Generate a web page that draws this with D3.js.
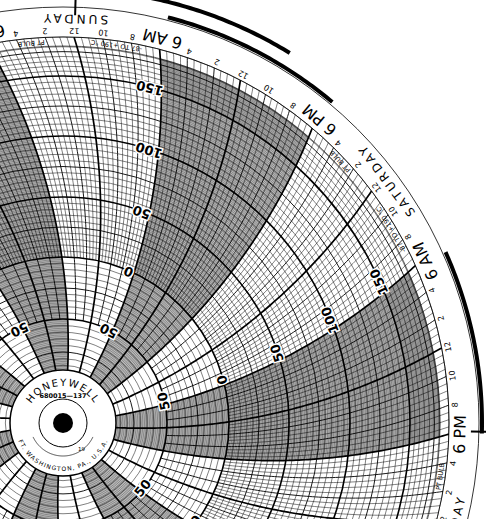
<!DOCTYPE html>
<html><head><meta charset="utf-8">
<script src="https://cdn.jsdelivr.net/npm/d3@7"></script>
<style>body{margin:0;background:#fff}svg{display:block}</style></head>
<body><svg id="c" width="486" height="519"></svg>
<script>
// ---- data ----
const scaleValues = [-87, -50, 0, 50, 100, 150, 190];
const valueLabels = [-50, 0, 50, 100, 150];
const valueLabelText = ["50", "0", "50", "100", "150"];
const dayNames = ["SUNDAY", "SATURDAY", "FRIDAY", "THURSDAY", "WEDNESDAY", "TUESDAY", "MONDAY"];
const hourLabels = [2, 4, 8, 10, 12];
const rimLabelSix = ["6 AM", "6 PM"];
const rangeText = "-87 TO +190 °C";
const bulbText = "PT BULB";

// ---- geometry ----
const W = 486, H = 519, cx = 63, cy = 423;
const svg = d3.select("#c");
const rScale = d3.scaleLinear().domain(scaleValues).range([55, 104, 166, 226, 287, 347, 386]);
const R = 386, HUB = 53, RHO = 1200;
const aScale = d3.scaleLinear().domain([0, 168]).range([14.5, 14.5 + 360]);
const rad = Math.PI / 180;
function curve(r) { return (Math.acos(r / RHO) - Math.acos(R / RHO)) / rad; }
function pt(h, r) { const a = (aScale(h) + curve(r)) * rad; return [cx + r * Math.sin(a), cy - r * Math.cos(a)]; }
function polar(a, r) { return [cx + r * Math.sin(a * rad), cy - r * Math.cos(a * rad)]; }

const g = svg.append("g");
g.append("rect").attr("width", W).attr("height", H).attr("fill", "#fff");

const defs = svg.append("defs");
const nightClip = defs.append("clipPath").attr("id", "night");
for (let k = -4; k <= 3; k++) {
  const h1 = 24 * k, h2 = 24 * k + 12, pts = [];
  for (let r = HUB; r <= R; r += 4) pts.push(pt(h1, r));
  for (let h = h1; h <= h2; h += 0.25) pts.push(pt(h, R));
  for (let r = R; r >= HUB; r -= 4) pts.push(pt(h2, r));
  nightClip.append("path").attr("d", d3.line()(pts) + "Z");
}
const ng = g.append("g").attr("clip-path", "url(#night)");
ng.append("circle").attr("cx", cx).attr("cy", cy).attr("r", R).attr("fill", "#bdbdbd");
for (let v = -87; v <= 190; v += 1.25) {
  ng.append("circle").attr("cx", cx).attr("cy", cy).attr("r", rScale(v))
    .attr("fill", "none").attr("stroke", "#444").attr("stroke-width", 0.45);
}

for (let v = -85; v <= 190; v += 5) {
  const bold = v % 50 === 0, med = v % 25 === 0;
  g.append("circle").attr("cx", cx).attr("cy", cy).attr("r", rScale(v)).attr("fill", "none")
    .attr("stroke", "#000").attr("stroke-width", bold ? 1.6 : med ? 0.9 : 0.5);
}
g.append("circle").attr("cx", cx).attr("cy", cy).attr("r", 381.5).attr("fill", "none")
  .attr("stroke", "#fff").attr("stroke-width", 8);
g.append("circle").attr("cx", cx).attr("cy", cy).attr("r", 377).attr("fill", "none").attr("stroke", "#000").attr("stroke-width", 0.6);
g.append("circle").attr("cx", cx).attr("cy", cy).attr("r", R).attr("fill", "none").attr("stroke", "#000").attr("stroke-width", 0.8);

const line = d3.line();
for (let h = -84; h < 84; h += 0.5) {
  const six = h % 6 === 0, two = h % 2 === 0;
  const r0 = six ? HUB : two ? rScale(-50) : rScale(0);
  const pts = [];
  for (let r = r0; r <= R; r += 3) pts.push(pt(h, r));
  pts.push(pt(h, R));
  g.append("path").attr("d", line(pts)).attr("fill", "none").attr("stroke", "#000")
    .attr("stroke-width", six ? 1.7 : two ? 0.9 : 0.5);
}

g.append("circle").attr("cx", cx).attr("cy", cy).attr("r", 416).attr("fill", "none").attr("stroke", "#000").attr("stroke-width", 0.8);

function rimText(txt, a, r, size, opts = {}) {
  const [x, y] = polar(a, r);
  const t = g.append("text").attr("transform", `translate(${x},${y}) rotate(${a + 180})`)
    .attr("text-anchor", "middle").attr("dominant-baseline", "middle")
    .attr("font-family", "DejaVu Sans, sans-serif").attr("font-size", size)
    .attr("font-weight", opts.weight || "normal").text(txt);
  if (opts.ls) t.attr("letter-spacing", opts.ls);
  if (opts.halo) t.attr("stroke", "#fff").attr("stroke-width", 3).attr("paint-order", "stroke");
  return t;
}

for (let k = -4; k <= 3; k++) {
  for (let dh = 0; dh < 24; dh += 2) {
    const h = 24 * k + dh;
    const hod = ((6 - dh) % 24 + 24) % 24;
    if (hod === 6 || hod === 18) continue;
    const lab = hod % 12 === 0 ? 12 : hod % 12;
    if (!hourLabels.includes(lab)) continue;
    rimText(String(lab), aScale(h), 392.5, 8);
  }
  rimText(rimLabelSix[0], aScale(24 * k), 398, 16);
  rimText(rimLabelSix[1], aScale(24 * k + 12), 398, 16);
  const di = ((k % 7) + 7) % 7;
  rimText(dayNames[di], aScale(24 * k - 6), 405, 12, { ls: 3 });
  rimText(rangeText, aScale(24 * k - 3), 381.5, 6.5);
  rimText(bulbText, aScale(24 * k - 9), 381.5, 6.5);
  valueLabels.forEach((v, i) => {
    const r = rScale(v);
    const a = aScale(24 * k - 0.9) + curve(r);
    rimText(valueLabelText[i], a, r, 13, { weight: "bold", halo: true });
  });
}

function arcPath(a0, a1, r) { const p = []; for (let a = a0; a <= a1; a += 0.5) p.push(polar(a, r)); return line(p); }
[[0, 12], [24, 36], [48, 60], [-24, -12]].forEach(([h0, h1]) => {
  g.append("path").attr("d", arcPath(aScale(h0), aScale(h1), 419)).attr("fill", "none").attr("stroke", "#000").attr("stroke-width", 4);
});
g.append("path").attr("d", arcPath(5, 31.6, 434)).attr("fill", "none").attr("stroke", "#000").attr("stroke-width", 4);
[1.7, 91.2].forEach(a => {
  const [x0, y0] = polar(a, 408), [x1, y1] = polar(a, 440);
  g.append("line").attr("x1", x0).attr("y1", y0).attr("x2", x1).attr("y2", y1).attr("stroke", "#000").attr("stroke-width", 2);
});

// hub
g.append("circle").attr("cx", cx).attr("cy", cy).attr("r", HUB).attr("fill", "#fff").attr("stroke", "#000").attr("stroke-width", 1.5);
g.append("circle").attr("cx", cx).attr("cy", cy).attr("r", 24).attr("fill", "none").attr("stroke", "#000").attr("stroke-width", 1);
g.append("circle").attr("cx", cx).attr("cy", cy).attr("r", 10).attr("fill", "#000");
defs.append("path").attr("id", "topArc").attr("d", `M${cx - 37},${cy} A37,37 0 0 1 ${cx + 37},${cy}`);
defs.append("path").attr("id", "botArc").attr("d", `M${cx - 43},${cy} A43,43 0 0 0 ${cx + 43},${cy}`);
g.append("text").attr("font-family", "DejaVu Sans, sans-serif").attr("font-size", 10).attr("letter-spacing", 1.5)
  .append("textPath").attr("href", "#topArc").attr("startOffset", "50%").attr("text-anchor", "middle").text("HONEYWELL");
g.append("text").attr("x", cx).attr("y", cy - 25).attr("text-anchor", "middle").attr("font-family", "DejaVu Sans, sans-serif")
  .attr("font-size", 6.5).attr("font-weight", "bold").text("680015—137");
g.append("text").attr("font-family", "DejaVu Sans, sans-serif").attr("font-size", 6).attr("letter-spacing", 0.6)
  .attr("dominant-baseline", "hanging")
  .append("textPath").attr("href", "#botArc").attr("startOffset", "50%").attr("text-anchor", "middle").text("FT. WASHINGTON, PA., U.S.A.");
g.append("path").attr("d", arcPath(115, 245, 33)).attr("fill", "none").attr("stroke", "#000").attr("stroke-width", 0.7);
g.append("text").attr("x", cx + 15).attr("y", cy + 28).attr("font-family", "DejaVu Sans, sans-serif").attr("font-size", 5.5).text("19");
</script></body></html>
